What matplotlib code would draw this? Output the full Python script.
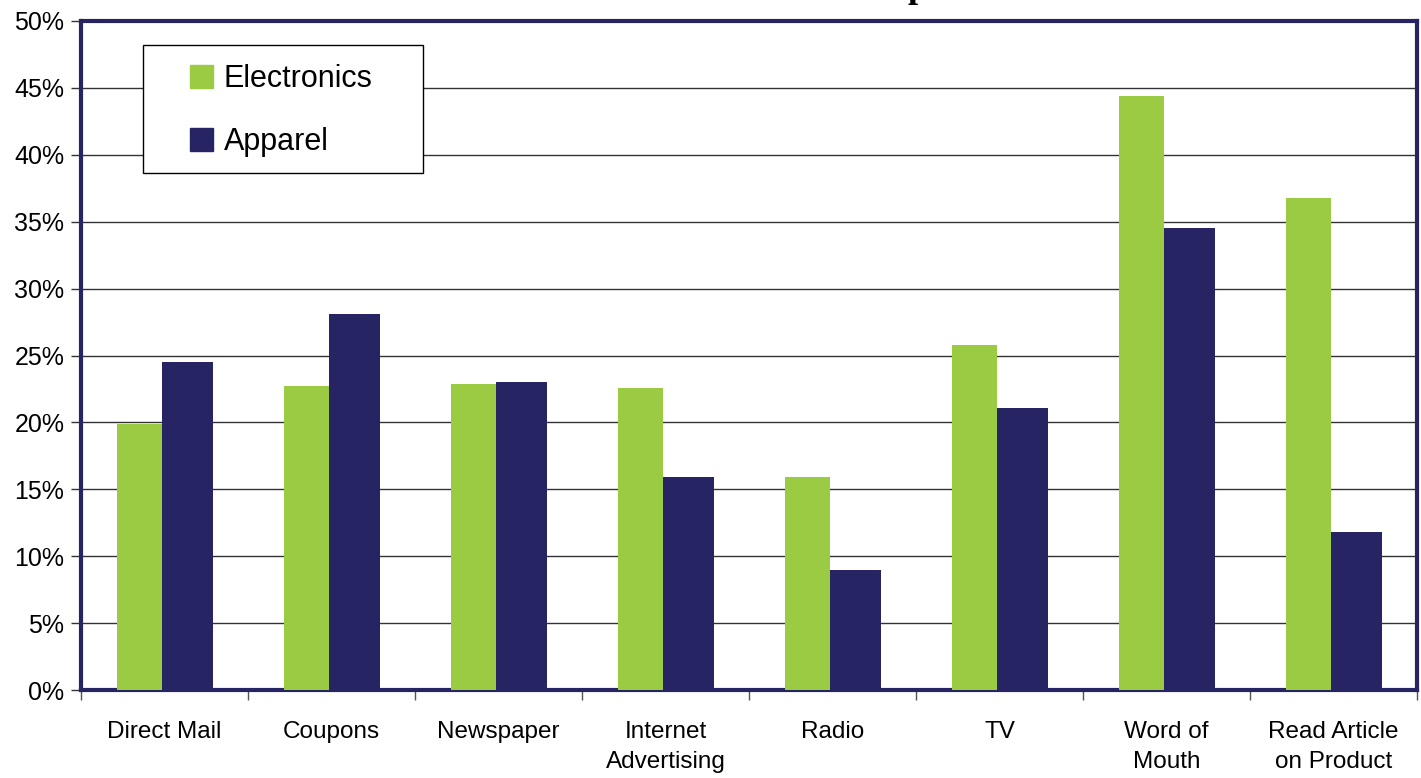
import matplotlib
matplotlib.use("Agg")
import matplotlib.pyplot as plt
import numpy as np
from matplotlib.patches import Patch, Rectangle

plt.rcParams['font.family'] = ['Liberation Sans', 'DejaVu Sans']

categories = ["Direct Mail", "Coupons", "Newspaper", "Internet\nAdvertising",
              "Radio", "TV", "Word of\nMouth", "Read Article\non Product"]
electronics = [19.9, 22.7, 22.9, 22.6, 15.9, 25.8, 44.4, 36.8]
apparel = [24.5, 28.1, 23.0, 15.9, 9.0, 21.1, 34.5, 11.8]
yticks = [0, 5, 10, 15, 20, 25, 30, 35, 40, 45, 50]
ytick_labels = [f"{v}%" for v in yticks]

green = "#9BCB43"
navy = "#262463"

W, H = 1421, 778
fig = plt.figure(figsize=(W / 100, H / 100), dpi=100)
ax = fig.add_axes([81/W, 88/H, 1336/W, 669/H])

x = np.arange(len(categories))
ax.bar(x - 0.284, electronics, width=0.27, align='edge', color=green, zorder=3)
ax.bar(x - 0.015, apparel, width=0.305, align='edge', color=navy, zorder=3)

ax.set_xlim(-0.5, len(categories) - 0.5)
ax.set_ylim(0, 50)
ax.set_yticks(yticks)
ax.set_yticklabels(ytick_labels, fontsize=18)
ax.set_xticks(x)
ax.set_xticklabels(categories, fontsize=17.5, linespacing=1.5)
ax.tick_params(axis='x', length=0, pad=22)
ax.set_xticks(np.arange(len(categories) + 1) - 0.5, minor=True)
ax.tick_params(axis='x', which='minor', length=7, color='#555555', width=1)
ax.tick_params(axis='y', length=7, color='#333333', width=1, pad=5)

ax.grid(axis='y', color='#333333', linewidth=1, zorder=0)
for s in ax.spines.values():
    s.set_color(navy)
    s.set_linewidth(3)

# legend box
box = Rectangle((143/W, 1 - 173/H), 280/W, 128/H, transform=fig.transFigure,
                facecolor='white', edgecolor='black', linewidth=1, zorder=5)
fig.patches.append(box)

handles = [Patch(facecolor=green, edgecolor=green), Patch(facecolor=navy, edgecolor=navy)]
leg = fig.legend(handles, ["Electronics", "Apparel"], loc='upper left',
                 bbox_to_anchor=(190/W, 1 - 64/H), bbox_transform=fig.transFigure,
                 fontsize=22, frameon=False, labelspacing=1.08,
                 handlelength=0.75, handleheight=0.75, handletextpad=0.35,
                 borderpad=0, borderaxespad=0)
leg.set_zorder(6)

fig.text(918/W, 1 + 3/H, "p", family=['Liberation Serif', 'DejaVu Serif'],
         fontweight='bold', fontsize=26, ha='center', va='baseline')

fig.savefig("out.png", dpi=100)
